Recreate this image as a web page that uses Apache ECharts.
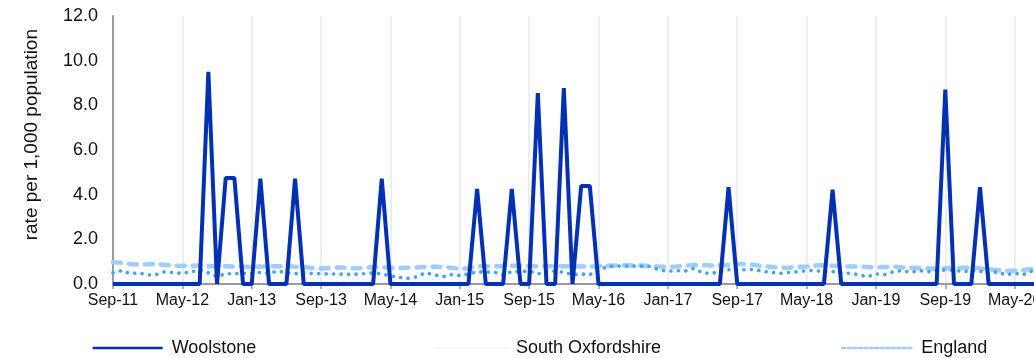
<!DOCTYPE html>
<html>
<head>
<meta charset="utf-8">
<script src="https://cdn.jsdelivr.net/npm/echarts@6/dist/echarts.min.js"></script>
<style>
  html, body { margin: 0; padding: 0; background: #fff; overflow: hidden; }
  #chart { width: 1080px; height: 358px; }
</style>
</head>
<body>
<div id="chart"></div>
<script>
// Monthly categories, Sep-11 to Oct-20
const months = [
  'Sep-11','Oct-11','Nov-11','Dec-11',
  'Jan-12','Feb-12','Mar-12','Apr-12','May-12','Jun-12','Jul-12','Aug-12','Sep-12','Oct-12','Nov-12','Dec-12',
  'Jan-13','Feb-13','Mar-13','Apr-13','May-13','Jun-13','Jul-13','Aug-13','Sep-13','Oct-13','Nov-13','Dec-13',
  'Jan-14','Feb-14','Mar-14','Apr-14','May-14','Jun-14','Jul-14','Aug-14','Sep-14','Oct-14','Nov-14','Dec-14',
  'Jan-15','Feb-15','Mar-15','Apr-15','May-15','Jun-15','Jul-15','Aug-15','Sep-15','Oct-15','Nov-15','Dec-15',
  'Jan-16','Feb-16','Mar-16','Apr-16','May-16','Jun-16','Jul-16','Aug-16','Sep-16','Oct-16','Nov-16','Dec-16',
  'Jan-17','Feb-17','Mar-17','Apr-17','May-17','Jun-17','Jul-17','Aug-17','Sep-17','Oct-17','Nov-17','Dec-17',
  'Jan-18','Feb-18','Mar-18','Apr-18','May-18','Jun-18','Jul-18','Aug-18','Sep-18','Oct-18','Nov-18','Dec-18',
  'Jan-19','Feb-19','Mar-19','Apr-19','May-19','Jun-19','Jul-19','Aug-19','Sep-19','Oct-19','Nov-19','Dec-19',
  'Jan-20','Feb-20','Mar-20','Apr-20','May-20','Jun-20','Jul-20','Aug-20','Sep-20','Oct-20'
];

// rate per 1,000 population
const woolstone = [
  0, 0, 0, 0, 0, 0, 0, 0, 0, 0,
  0, 9.5, 0, 4.75, 4.75, 0, 0, 4.72, 0, 0,
  0, 4.72, 0, 0, 0, 0, 0, 0, 0, 0,
  0, 4.72, 0, 0, 0, 0, 0, 0, 0, 0,
  0, 0, 4.26, 0, 0, 0, 4.26, 0, 0, 8.55,
  0, 0, 8.77, 0, 4.39, 4.39, 0, 0, 0, 0,
  0, 0, 0, 0, 0, 0, 0, 0, 0, 0,
  0, 4.33, 0, 0, 0, 0, 0, 0, 0, 0,
  0, 0, 0, 4.22, 0, 0, 0, 0, 0, 0,
  0, 0, 0, 0, 0, 0, 8.7, 0, 0, 0,
  4.33, 0, 0, 0, 0, 0, 0, 0, 0, 0
];

const southOxfordshire = [
  0.5, 0.6, 0.46, 0.5, 0.4, 0.43, 0.55, 0.5, 0.48, 0.55,
  0.62, 0.5, 0.33, 0.46, 0.46, 0.48, 0.47, 0.52, 0.47, 0.58,
  0.5, 0.46, 0.5, 0.47, 0.46, 0.45, 0.45, 0.43, 0.44, 0.46,
  0.5, 0.45, 0.36, 0.3, 0.25, 0.32, 0.5, 0.42, 0.32, 0.42,
  0.38, 0.45, 0.55, 0.53, 0.53, 0.4, 0.56, 0.55, 0.58, 0.45,
  0.54, 0.58, 0.52, 0.42, 0.45, 0.42, 0.6, 0.78, 0.8, 0.8,
  0.8, 0.8, 0.78, 0.63, 0.57, 0.6, 0.58, 0.7, 0.5, 0.47,
  0.55, 0.64, 0.62, 0.64, 0.65, 0.56, 0.52, 0.48, 0.52, 0.55,
  0.6, 0.6, 0.55, 0.55, 0.5, 0.48, 0.42, 0.32, 0.45, 0.42,
  0.55, 0.6, 0.52, 0.6, 0.55, 0.58, 0.63, 0.62, 0.55, 0.6,
  0.58, 0.45, 0.55, 0.4, 0.48, 0.42, 0.58, 0.62, 0.6, 0.62
];

const england = [
  0.97, 0.95, 0.9, 0.87, 0.88, 0.9, 0.85, 0.82, 0.81, 0.82,
  0.83, 0.8, 0.8, 0.79, 0.78, 0.78, 0.76, 0.78, 0.79, 0.79,
  0.8, 0.77, 0.75, 0.72, 0.69, 0.72, 0.74, 0.73, 0.7, 0.72,
  0.76, 0.74, 0.72, 0.72, 0.73, 0.74, 0.76, 0.78, 0.76, 0.73,
  0.68, 0.7, 0.79, 0.79, 0.8, 0.8, 0.82, 0.82, 0.8, 0.8,
  0.8, 0.79, 0.8, 0.79, 0.78, 0.78, 0.8, 0.81, 0.83, 0.84,
  0.83, 0.83, 0.8, 0.78, 0.76, 0.78, 0.82, 0.85, 0.84, 0.83,
  0.84, 0.85, 0.9, 0.9, 0.85, 0.8, 0.76, 0.73, 0.73, 0.77,
  0.78, 0.83, 0.84, 0.82, 0.8, 0.78, 0.78, 0.76, 0.74, 0.76,
  0.78, 0.74, 0.73, 0.72, 0.7, 0.68, 0.7, 0.72, 0.73, 0.73,
  0.7, 0.66, 0.62, 0.58, 0.6, 0.63, 0.68, 0.72, 0.74, 0.75
];

const yTitle = 'rate per 1,000 population';
const FONT = '"Liberation Sans", Arial, sans-serif';
const C_WOOL = '#0430b4';
const C_SOX = '#45a2f7';
const C_ENG = '#9fcdfd';

const chart = echarts.init(document.getElementById('chart'), null, { renderer: 'canvas' });

chart.setOption({
  animation: false,
  backgroundColor: '#ffffff',
  textStyle: { fontFamily: FONT },
  grid: { left: 113, right: 22, top: 16, bottom: 74, containLabel: false },
  graphic: [{
    type: 'text',
    left: 22,
    top: 29,
    rotation: Math.PI / 2,
    style: {
      text: yTitle,
      fontSize: 19,
      fontFamily: FONT,
      fill: '#111111'
    }
  }],
  legend: {
    left: 'center',
    top: 334,
    itemWidth: 70,
    itemHeight: 14,
    itemGap: 180,
    textStyle: { fontSize: 18, color: '#111111', fontFamily: FONT, padding: [0, 0, 0, 4] },
    data: [
      { name: 'Woolstone', icon: 'path://M0,5.8 L70,5.8 L70,8.2 L0,8.2 Z', itemStyle: { color: C_WOOL } },
      { name: 'South Oxfordshire', lineStyle: { color: '#d6e9fb', width: 1.2, type: [1, 2] }, itemStyle: { color: '#d6e9fb', opacity: 0 } },
      { name: 'England', lineStyle: { color: C_ENG, width: 2.5, type: [3, 2.5] }, itemStyle: { color: C_ENG, opacity: 0 } }
    ]
  },
  xAxis: {
    type: 'category',
    data: months,
    boundaryGap: false,
    axisLine: { show: true, lineStyle: { color: '#9a9a9a', width: 2 } },
    axisTick: { show: true, interval: 7, length: 5, lineStyle: { color: '#9a9a9a', width: 1.5 } },
    axisLabel: { interval: 7, fontSize: 16, color: '#111111', margin: 9, fontFamily: FONT },
    splitLine: { show: true, interval: 7, lineStyle: { color: '#e8e8e8', width: 1.5 } }
  },
  yAxis: {
    type: 'value',
    min: 0,
    max: 12,
    interval: 2,
    axisLine: { show: true, lineStyle: { color: '#9a9a9a', width: 2 } },
    axisTick: { show: false },
    splitLine: { show: false },
    axisLabel: {
      fontSize: 18,
      color: '#111111',
      margin: 15,
      fontFamily: FONT,
      formatter: v => v.toFixed(1)
    }
  },
  series: [
    {
      name: 'Woolstone',
      type: 'line',
      data: woolstone,
      symbol: 'none',
      z: 4,
      lineStyle: { color: C_WOOL, width: 4 },
      itemStyle: { color: C_WOOL }
    },
    {
      name: 'South Oxfordshire',
      type: 'line',
      data: southOxfordshire,
      symbol: 'none',
      z: 3,
      lineStyle: { color: C_SOX, width: 3.6, type: [0.1, 7.4], cap: 'round' },
      itemStyle: { color: C_SOX }
    },
    {
      name: 'England',
      type: 'line',
      data: england,
      symbol: 'none',
      z: 2,
      lineStyle: { color: C_ENG, width: 4.5, type: [8, 8], cap: 'round' },
      itemStyle: { color: C_ENG }
    }
  ]
});
</script>
</body>
</html>
